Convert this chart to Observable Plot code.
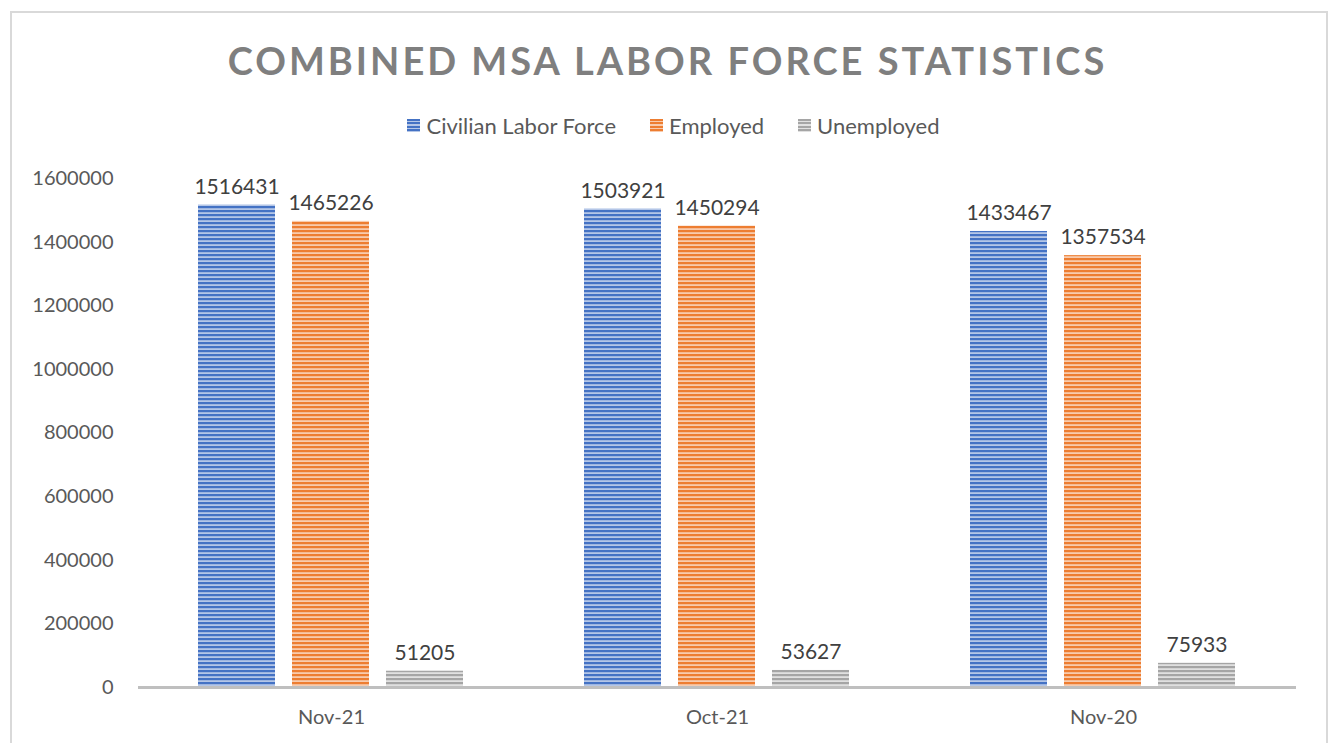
<!DOCTYPE html>
<html><head><meta charset="utf-8">
<script src="https://cdn.jsdelivr.net/npm/d3@7"></script>
<script src="https://cdn.jsdelivr.net/npm/@observablehq/plot@0.6"></script>
<style>
body{margin:0;background:#fff;font-family:Lato,sans-serif}
#wrap{position:relative;width:1329px;height:743px;overflow:hidden;background:#fff}
#frame{position:absolute;left:10px;top:11px;width:1318px;height:800px;border:2px solid #d9d9d9;box-sizing:border-box}
#title{position:absolute;top:37px;left:3px;width:1329px;text-align:center;font-weight:bold;font-size:38px;letter-spacing:3px;color:#7f7f7f;white-space:nowrap}
#legend{position:absolute;top:112px;left:9px;width:1329px;display:flex;justify-content:center;gap:34px;font-size:22px;color:#595959}
.item{display:flex;align-items:center}
.sw{width:13px;height:13px;margin-right:6px}
#chart{position:absolute;top:150px;left:0}
</style></head>
<body>
<div id="wrap">
  <div id="frame"></div>
  <div id="title">COMBINED MSA LABOR FORCE STATISTICS</div>
  <div id="legend"></div>
  <div id="chart"></div>
</div>
<script>
const categories = ["Nov-21", "Oct-21", "Nov-20"];
const seriesNames = ["Civilian Labor Force", "Employed", "Unemployed"];
const civilianLaborForce = [1516431, 1503921, 1433467];
const employed = [1465226, 1450294, 1357534];
const unemployed = [51205, 53627, 75933];
const yTicks = [0, 200000, 400000, 600000, 800000, 1000000, 1200000, 1400000, 1600000];

const colors = ["#4472C4", "#ED7D31", "#A5A5A5"];
const tints = ["#b4c6e7", "#f8cbad", "#e0e0e0"];
const patIds = ["pat-blue", "pat-orange", "pat-gray"];

const valuesBySeries = [civilianLaborForce, employed, unemployed];
const data = [];
categories.forEach((c, i) => {
  seriesNames.forEach((s, j) => {
    data.push({category: c, series: s, value: valuesBySeries[j][i]});
  });
});

const chart = Plot.plot({
  width: 1329,
  height: 593,
  marginTop: 28,
  marginBottom: 56,
  marginLeft: 137,
  marginRight: 32,
  style: {fontSize: "20px", fontFamily: "Lato, sans-serif", color: "#595959", background: "transparent"},
  fx: {domain: categories, padding: 0, label: null, axis: "bottom", tickSize: 0, tickPadding: 22},
  x: {domain: seriesNames, paddingInner: 0.18, paddingOuter: 0.64, axis: null},
  y: {domain: [0, 1600000], axis: null},
  color: {domain: seriesNames, range: patIds.map(id => `url(#${id})`)},
  marks: [
    Plot.axisY({ticks: yTicks, tickFormat: d => String(d), tickSize: 0, tickPadding: 25, label: null, fill: "#595959"}),
    Plot.barY(data, {fx: "category", x: "series", y: "value", fill: "series"}),
    Plot.ruleY([0], {stroke: "#bfbfbf", strokeWidth: 3}),
    Plot.text(data, {fx: "category", x: "series", y: "value", text: d => String(d.value), dy: -18, fill: "#404040", fontSize: 21})
  ]
});

const svg = d3.select(chart);
const defs = svg.insert("defs", ":first-child");
patIds.forEach((id, k) => {
  const p = defs.append("pattern").attr("id", id).attr("patternUnits", "userSpaceOnUse")
    .attr("width", 8).attr("height", 4);
  p.append("rect").attr("width", 8).attr("height", 4).attr("fill", tints[k]);
  p.append("rect").attr("width", 8).attr("height", 2.2).attr("fill", colors[k]);
});
document.getElementById("chart").appendChild(chart);

const legend = d3.select("#legend");
seriesNames.forEach((s, k) => {
  const it = legend.append("div").attr("class", "item");
  it.append("div").attr("class", "sw")
    .style("background", `repeating-linear-gradient(to bottom, ${colors[k]} 0px, ${colors[k]} 2px, ${tints[k]} 2px, ${tints[k]} 3.5px)`);
  it.append("span").text(s);
});
</script>
</body></html>
